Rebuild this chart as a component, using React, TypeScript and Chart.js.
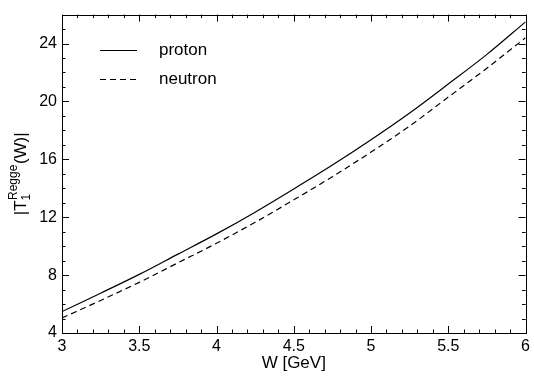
import React, { useEffect, useRef } from "react";
import { Chart, registerables } from "chart.js";

Chart.register(...registerables);

const W_VALUES = [3.0, 3.25, 3.5, 3.75, 4.0, 4.25, 4.5, 4.75, 5.0, 5.25, 5.5, 5.75, 6.0];
const PROTON = [5.48, 6.75, 8.05, 9.45, 10.85, 12.35, 13.95, 15.6, 17.35, 19.2, 21.2, 23.25, 25.5];
const NEUTRON = [5.04, 6.25, 7.5, 8.85, 10.2, 11.65, 13.2, 14.8, 16.5, 18.3, 20.3, 22.3, 24.4];

const X_TICKS = [3, 3.5, 4, 4.5, 5, 5.5, 6];
const Y_TICKS = [4, 8, 12, 16, 20, 24];
const X_MINOR_STEP = 0.1;
const Y_MINOR_STEP = 1;
const X_RANGE = [3, 6];
const Y_RANGE = [4, 26];

const SERIES_LABELS = ["proton", "neutron"];
const X_TITLE = "W [GeV]";

const FONT = "Arial, 'Liberation Sans', Helvetica, sans-serif";

const framePlugin = {
  id: "frameTicks",
  afterDraw(chart: any) {
    const { ctx, chartArea } = chart;
    const xs = chart.scales.x;
    const ys = chart.scales.y;
    const { left, right, top, bottom } = chartArea;
    ctx.save();
    ctx.strokeStyle = "#000";
    ctx.lineWidth = 1;
    ctx.strokeRect(Math.round(left) + 0.5, Math.round(top) + 0.5, Math.round(right - left), Math.round(bottom - top));

    const majorLen = 7;
    const minorLen = 3.5;
    ctx.beginPath();
    for (let v = X_RANGE[0]; v <= X_RANGE[1] + 1e-9; v += X_MINOR_STEP) {
      const isMajor = X_TICKS.some((t) => Math.abs(t - v) < 1e-6);
      const len = isMajor ? majorLen : minorLen;
      const px = Math.round(xs.getPixelForValue(v)) + 0.5;
      ctx.moveTo(px, bottom);
      ctx.lineTo(px, bottom - len);
      ctx.moveTo(px, top);
      ctx.lineTo(px, top + len);
    }
    for (let v = Y_RANGE[0]; v <= Y_RANGE[1] + 1e-9; v += Y_MINOR_STEP) {
      const isMajor = Y_TICKS.some((t) => Math.abs(t - v) < 1e-6);
      const len = isMajor ? majorLen : minorLen;
      const py = Math.round(ys.getPixelForValue(v)) + 0.5;
      ctx.moveTo(left, py);
      ctx.lineTo(left + len, py);
      ctx.moveTo(right, py);
      ctx.lineTo(right - len, py);
    }
    ctx.stroke();

    // legend
    const legendX0 = 100;
    const legendX1 = 137;
    const textX = 159;
    const rows = [50, 79];
    chart.data.datasets.forEach((ds: any, i: number) => {
      const y = rows[i] + 0.5;
      ctx.beginPath();
      ctx.setLineDash(ds.borderDash || []);
      ctx.lineWidth = 1.2;
      ctx.moveTo(legendX0, y);
      ctx.lineTo(legendX1, y);
      ctx.stroke();
      ctx.setLineDash([]);
      ctx.fillStyle = "#000";
      ctx.font = `17px ${FONT}`;
      ctx.textBaseline = "middle";
      ctx.textAlign = "left";
      ctx.fillText(ds.label, textX, rows[i]);
    });

    // y title: |T_1^Regge(W)|
    const main = `17px ${FONT}`;
    const small = `12px ${FONT}`;
    ctx.font = main;
    const wA = ctx.measureText("|T").width;
    const wC = ctx.measureText("(W)|").width;
    ctx.font = small;
    const wB = Math.max(ctx.measureText("Regge").width, ctx.measureText("1").width);
    const total = wA + wB + 1 + wC;
    const cy = (top + bottom) / 2;
    ctx.translate(26, cy);
    ctx.rotate(-Math.PI / 2);
    ctx.textBaseline = "alphabetic";
    ctx.textAlign = "left";
    let x = -total / 2;
    ctx.font = main;
    ctx.fillText("|T", x, 0);
    x += wA;
    ctx.font = small;
    ctx.fillText("Regge", x + 0.5, -9);
    ctx.fillText("1", x, 4);
    x += wB + 1;
    ctx.font = main;
    ctx.fillText("(W)|", x, 0);
    ctx.restore();
  },
};

export default function App() {
  const ref = useRef<HTMLCanvasElement | null>(null);
  useEffect(() => {
    if (!ref.current) return;
    const mk = (vals: number[]) => W_VALUES.map((w, i) => ({ x: w, y: vals[i] }));
    const chart = new Chart(ref.current, {
      type: "line",
      data: {
        datasets: [
          {
            label: SERIES_LABELS[0],
            data: mk(PROTON),
            borderColor: "#000",
            borderWidth: 1.2,
            pointRadius: 0,
            cubicInterpolationMode: "monotone",
            fill: false,
          },
          {
            label: SERIES_LABELS[1],
            data: mk(NEUTRON),
            borderColor: "#000",
            borderWidth: 1.2,
            borderDash: [6, 4],
            pointRadius: 0,
            cubicInterpolationMode: "monotone",
            fill: false,
          },
        ],
      } as any,
      options: {
        animation: false,
        responsive: false,
        maintainAspectRatio: false,
        layout: { padding: { top: 5, right: 5, left: 0, bottom: 0 } },
        plugins: { legend: { display: false }, tooltip: { enabled: false } },
        scales: {
          x: {
            type: "linear",
            min: X_RANGE[0],
            max: X_RANGE[1],
            afterBuildTicks: (s: any) => {
              s.ticks = X_TICKS.map((v) => ({ value: v }));
            },
            afterFit: (s: any) => {
              s.height = 43;
            },
            grid: { display: false, drawTicks: false },
            border: { display: false },
            ticks: {
              color: "#000",
              padding: 4,
              maxRotation: 0,
              autoSkip: false,
              font: { family: FONT, size: 16 },
              callback: (v: any) => String(v),
            },
            title: {
              display: true,
              text: X_TITLE,
              color: "#000",
              font: { family: FONT, size: 17 },
              padding: { top: 0, bottom: 2 },
            },
          },
          y: {
            type: "linear",
            min: Y_RANGE[0],
            max: Y_RANGE[1],
            afterBuildTicks: (s: any) => {
              s.ticks = Y_TICKS.map((v) => ({ value: v }));
            },
            afterFit: (s: any) => {
              s.width = 62;
            },
            grid: { display: false, drawTicks: false },
            border: { display: false },
            ticks: {
              color: "#000",
              padding: 5,
              autoSkip: false,
              font: { family: FONT, size: 16 },
              callback: (v: any) => String(v),
            },
          },
        },
      } as any,
      plugins: [framePlugin],
    });
    return () => chart.destroy();
  }, []);
  return (
    <div style={{ position: "absolute", left: 0, top: 0, width: 534, height: 376, background: "#fff" }}>
      <canvas ref={ref} width={534} height={376} style={{ display: "block" }} />
    </div>
  );
}
